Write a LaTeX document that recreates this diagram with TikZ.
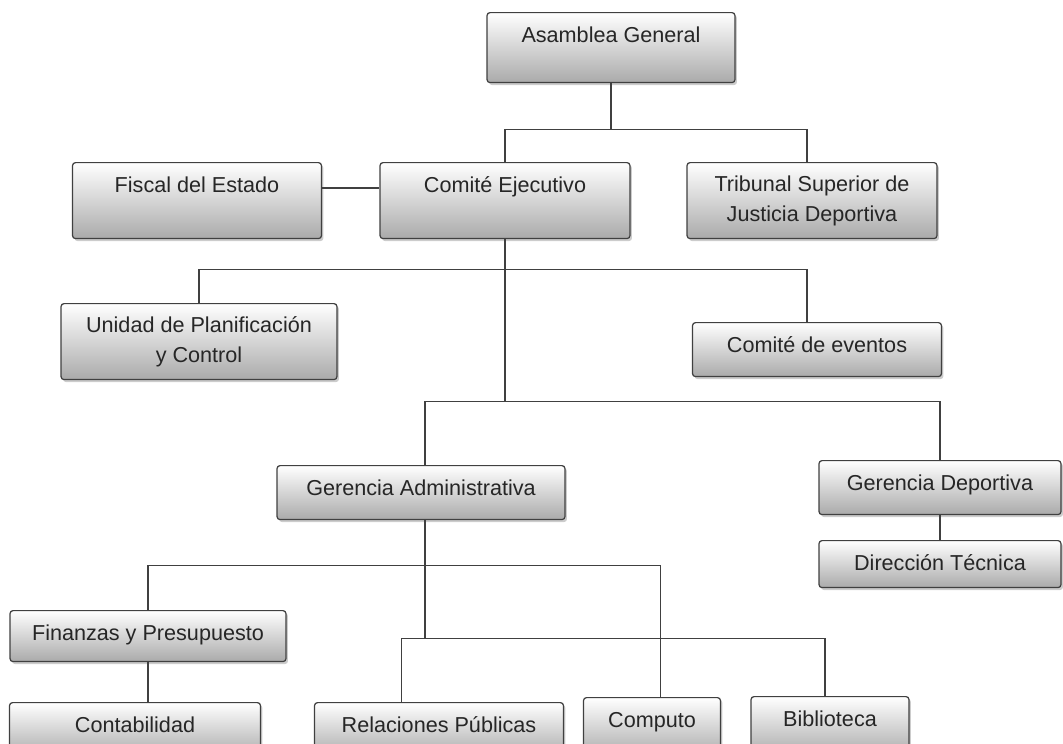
\documentclass[tikz,border=0pt]{standalone}
\usepackage{fontspec}
\setmainfont{Liberation Sans}
\usetikzlibrary{shadows}
\definecolor{boxline}{RGB}{64,64,64}
\definecolor{boxgray}{RGB}{170,170,170}

\begin{document}
\begin{tikzpicture}[x=0.02cm, y=-0.02cm,
  unit/.style={draw=boxline, line width=0.7pt, rounded corners=0.06cm, top color=white, bottom color=boxgray, drop shadow={shadow xshift=0.04cm, shadow yshift=-0.05cm, fill=black!40, opacity=0.5}, anchor=north, inner xsep=2pt, font=\fontsize{12.3}{17}\selectfont, text=black!85},
  onebox/.style={unit, inner ysep=0pt, text height=0.6cm, text depth=#1},
  onebox/.default=0.48cm,
  twobox/.style={unit, align=center, minimum height=1.52cm},
  link/.style={draw=black!75, line width=0.8pt}]
  \path[use as bounding box, clip] (0,0) rectangle (1063,744);
  \node[onebox=0.8cm, minimum width=4.96cm] (asamblea) at (611,12) {Asamblea General};
  \node[onebox=0.92cm, minimum width=4.98cm] (fiscal) at (197,162) {Fiscal del Estado};
  \node[onebox=0.92cm, minimum width=5cm] (ejecutivo) at (505,162) {Comité Ejecutivo};
  \node[twobox, minimum width=5cm] (tribunal) at (812,162) {Tribunal Superior de\\Justicia Deportiva};
  \node[twobox, minimum width=5.52cm] (unidad) at (199,303) {Unidad de Planificación\\y Control};
  \node[onebox, minimum width=4.98cm] (eventos) at (817,322) {Comité de eventos};
  \node[onebox, minimum width=5.76cm] (gadmin) at (421,465) {Gerencia Administrativa};
  \node[onebox, minimum width=4.84cm] (gdeport) at (940,460) {Gerencia Deportiva};
  \node[onebox=0.34cm, minimum width=4.84cm] (tecnica) at (940,540) {Dirección Técnica};
  \node[onebox=0.42cm, minimum width=5.52cm] (finanzas) at (148,610) {Finanzas y Presupuesto};
  \node[onebox=0.5cm, minimum width=5.02cm] (contab) at (135,702) {Contabilidad};
  \node[onebox=0.5cm, minimum width=4.98cm] (publicas) at (439,702) {Relaciones Públicas};
  \node[onebox=0.6cm, minimum width=2.74cm] (computo) at (652,697) {Computo};
  \node[onebox=0.6cm, minimum width=3.16cm] (biblio) at (830,696) {Biblioteca};

  \draw[link] (asamblea.south) -- ++(0,46) coordinate (top);
  \draw[link] (ejecutivo.north) |- (top) -| ([xshift=-0.1cm]tribunal.north);
  \draw[link] (fiscal.mid east) -- (ejecutivo.mid west);
  \draw[link] (ejecutivo.south) -- ++(0,162) coordinate (mid);
  \path (ejecutivo.south) ++(0,30) coordinate (upper);
  \draw[link] (unidad.north) |- (upper) -| ([xshift=-0.2cm]eventos.north);
  \draw[link] ([xshift=0.08cm]gadmin.north) |- (mid) -| (gdeport.north);
  \draw[link] (gdeport.south) -- (tecnica.north);
  \draw[link] ([xshift=0.08cm]gadmin.south) -- ++(0,118) coordinate (low);
  \path ([xshift=0.08cm]gadmin.south) ++(0,45) coordinate (lowbar);
  \draw[link] (finanzas.north) |- (lowbar) -| ([xshift=0.17cm]computo.north);
  \draw[link] ([xshift=-0.75cm]publicas.north) |- (low) -| ([xshift=-0.1cm]biblio.north);
  \draw[link] (finanzas.south) -- (finanzas.south |- contab.north);
\end{tikzpicture}
\end{document}
